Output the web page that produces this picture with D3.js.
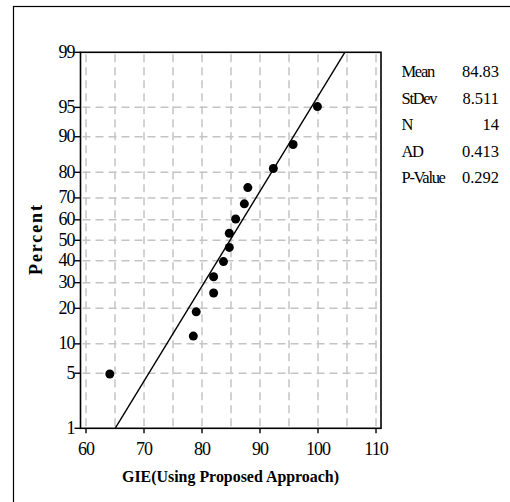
<!DOCTYPE html>
<html>
<head>
<meta charset="utf-8">
<script src="https://cdn.jsdelivr.net/npm/d3@7"></script>
<style>
  body { margin: 0; background: #fff; }
  text { font-family: "Liberation Serif", "Times New Roman", serif; fill: #000; }
</style>
</head>
<body>
<svg id="chart" width="510" height="502"></svg>
<script>
// data
var gieValues = [64.1, 78.5, 79.0, 82.0, 82.0, 83.7, 84.7, 84.7, 85.8, 87.3, 87.9, 92.3, 95.7, 99.9];
var percentValues = [4.9, 11.8, 18.8, 25.7, 32.6, 39.6, 46.5, 53.5, 60.4, 67.4, 74.3, 81.3, 88.2, 95.1];
var xTicks = [60, 70, 80, 90, 100, 110];
var xGrid = [60, 65, 70, 75, 80, 85, 90, 95, 100, 105, 110];
var yTicks = [1, 5, 10, 20, 30, 40, 50, 60, 70, 80, 90, 95, 99];
var statLabels = ["Mean", "StDev", "N", "AD", "P-Value"];
var statValues = ["84.83", "8.511", "14", "0.413", "0.292"];
var fitMean = 84.83, fitSd = 8.511;

// inverse normal cdf (Acklam)
function probit(p) {
  var a = [-39.69683028665376, 220.9460984245205, -275.9285104469687, 138.3577518672690, -30.66479806614716, 2.506628277459239];
  var b = [-54.47609879822406, 161.5858368580409, -155.6989798598866, 66.80131188771972, -13.28068155288572];
  var c = [-0.007784894002430293, -0.3223964580411365, -2.400758277161838, -2.549732539343734, 4.374664141464968, 2.938163982698783];
  var d = [0.007784695709041462, 0.3224671290700398, 2.445134137142996, 3.754408661907416];
  var q, r;
  if (p < 0.02425) {
    q = Math.sqrt(-2 * Math.log(p));
    return (((((c[0]*q+c[1])*q+c[2])*q+c[3])*q+c[4])*q+c[5]) / ((((d[0]*q+d[1])*q+d[2])*q+d[3])*q+1);
  } else if (p > 1 - 0.02425) {
    q = Math.sqrt(-2 * Math.log(1 - p));
    return -(((((c[0]*q+c[1])*q+c[2])*q+c[3])*q+c[4])*q+c[5]) / ((((d[0]*q+d[1])*q+d[2])*q+d[3])*q+1);
  }
  q = p - 0.5; r = q * q;
  return (((((a[0]*r+a[1])*r+a[2])*r+a[3])*r+a[4])*r+a[5])*q / (((((b[0]*r+b[1])*r+b[2])*r+b[3])*r+b[4])*r+1);
}

var svg = d3.select('#chart');
var plotLeft = 80.5, plotRight = 381, plotTop = 52.3, plotBottom = 428.3;

var x = d3.scaleLinear().domain([59.05, 110.86]).range([plotLeft, plotRight]);
var yp = d3.scaleLinear().domain([probit(0.01), probit(0.99)]).range([plotBottom, plotTop]);
var y = p => yp(probit(p / 100));

// outer border
svg.append('rect')
  .attr('x', 13.5).attr('y', 6.5)
  .attr('width', 520).attr('height', 520)
  .attr('fill', 'none').attr('stroke', '#000').attr('stroke-width', 1.2);

// grid
var grid = svg.append('g').attr('stroke', '#c4c4c4').attr('stroke-width', 1.5).attr('stroke-dasharray', '8,5');
grid.selectAll('.vg')
  .data(xGrid)
  .enter()
  .append('line')
    .attr('x1', d => x(d)).attr('x2', d => x(d))
    .attr('y1', plotTop + 2).attr('y2', plotBottom);
grid.selectAll('.hg')
  .data(yTicks.filter(d => d > 1 && d < 99))
  .enter()
  .append('line')
    .attr('x1', plotLeft + 2).attr('x2', plotRight)
    .attr('y1', d => y(d)).attr('y2', d => y(d));

// fitted line, clipped to the frame
svg.append('clipPath').attr('id', 'clip')
  .append('rect').attr('x', plotLeft).attr('y', plotTop)
  .attr('width', plotRight - plotLeft).attr('height', plotBottom - plotTop);
var pLo = 0.5, pHi = 99.5;
svg.append('line')
  .attr('clip-path', 'url(#clip)')
  .attr('x1', x(fitMean + fitSd * probit(pLo / 100))).attr('y1', y(pLo))
  .attr('x2', x(fitMean + fitSd * probit(pHi / 100))).attr('y2', y(pHi))
  .attr('stroke', '#000').attr('stroke-width', 1.4);

// points
svg.selectAll('.pt')
  .data(gieValues)
  .enter()
  .append('circle')
    .attr('cx', d => x(d))
    .attr('cy', (d, i) => y(percentValues[i]))
    .attr('r', 4.5)
    .attr('fill', '#000');

// frame
svg.append('rect')
  .attr('x', plotLeft).attr('y', plotTop)
  .attr('width', plotRight - plotLeft).attr('height', plotBottom - plotTop)
  .attr('fill', 'none').attr('stroke', '#000').attr('stroke-width', 1.6);

// x axis
var xAxis = svg.append('g');
xAxis.selectAll('line')
  .data(xTicks)
  .enter()
  .append('line')
    .attr('x1', d => x(d)).attr('x2', d => x(d))
    .attr('y1', plotBottom).attr('y2', plotBottom + 5)
    .attr('stroke', '#000').attr('stroke-width', 1.4);
xAxis.selectAll('text')
  .data(xTicks)
  .enter()
  .append('text')
    .attr('x', d => x(d)).attr('y', plotBottom + 27)
    .attr('text-anchor', 'middle')
    .attr('font-size', 18).attr('letter-spacing', -1)
    .text(d => d);

// y axis
var yAxis = svg.append('g');
yAxis.selectAll('line')
  .data(yTicks)
  .enter()
  .append('line')
    .attr('x1', plotLeft - 6).attr('x2', plotLeft)
    .attr('y1', d => y(d)).attr('y2', d => y(d))
    .attr('stroke', '#000').attr('stroke-width', 1.4);
yAxis.selectAll('text')
  .data(yTicks)
  .enter()
  .append('text')
    .attr('x', plotLeft - 6).attr('y', d => y(d) + 5.5)
    .attr('text-anchor', 'end')
    .attr('font-size', 18).attr('letter-spacing', -1)
    .text(d => d);

// axis titles
svg.append('text')
  .attr('x', 122).attr('y', 482)
  .attr('font-size', 17).attr('font-weight', 'bold')
  .attr('textLength', 217).attr('lengthAdjust', 'spacingAndGlyphs')
  .text('GIE(Using Proposed Approach)');

svg.append('text')
  .attr('transform', 'translate(42,240) rotate(-90)')
  .attr('text-anchor', 'middle')
  .attr('font-size', 18).attr('font-weight', 'bold')
  .attr('textLength', 70).attr('lengthAdjust', 'spacing')
  .text('Percent');

// stats table
var stats = svg.append('g');
stats.selectAll('.sl')
  .data(statLabels)
  .enter()
  .append('text')
    .attr('x', 401.5).attr('y', (d, i) => 77 + i * 26.6)
    .attr('font-size', 16.5).attr('letter-spacing', -1.3)
    .text(d => d);
stats.selectAll('.sv')
  .data(statValues)
  .enter()
  .append('text')
    .attr('x', 499).attr('y', (d, i) => 77 + i * 26.6)
    .attr('text-anchor', 'end')
    .attr('font-size', 16.5)
    .text(d => d);
</script>
</body>
</html>
